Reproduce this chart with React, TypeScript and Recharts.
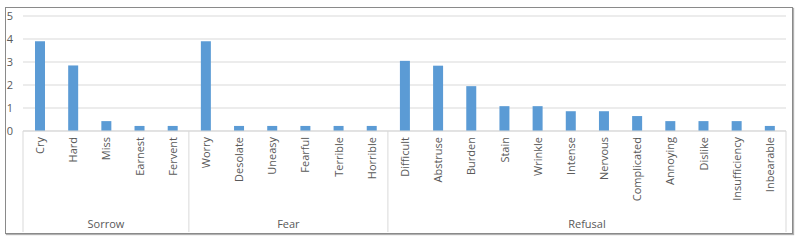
import React from 'react';
import { BarChart, Bar, XAxis, YAxis, CartesianGrid } from 'recharts';

const words = [
  'Cry', 'Hard', 'Miss', 'Earnest', 'Fervent',
  'Worry', 'Desolate', 'Uneasy', 'Fearful', 'Terrible', 'Horrible',
  'Difficult', 'Abstruse', 'Burden', 'Stain', 'Wrinkle', 'Intense', 'Nervous',
  'Complicated', 'Annoying', 'Dislike', 'Insufficiency', 'Inbearable',
];
const values = [
  3.9, 2.85, 0.43, 0.22, 0.22,
  3.9, 0.22, 0.22, 0.22, 0.22, 0.22,
  3.05, 2.84, 1.95, 1.08, 1.08, 0.86, 0.86, 0.65, 0.43, 0.43, 0.43, 0.22,
];
const groupNames = ['Sorrow', 'Fear', 'Refusal'];
const groupSizes = [5, 6, 12];
const yTicks = [0, 1, 2, 3, 4, 5];

const data = words.map((w, i) => ({ word: w, value: values[i] }));

const groupStarts: number[] = [];
{
  let s = 0;
  for (const n of groupSizes) {
    groupStarts.push(s);
    s += n;
  }
}

const FONT = '"Open Sans", "Noto Sans", sans-serif';
const TEXT = '#595959';
const LINE = '#d9d9d9';

const WordTick = (props: any) => {
  const { x, y, payload } = props;
  const idx: number = payload.index;
  const half: number = payload.offset || 16.6;
  const els: React.ReactNode[] = [];
  els.push(
    <text
      key="w"
      x={0}
      y={0}
      transform={`translate(${x},${y + 6}) rotate(-90)`}
      textAnchor="end"
      dominantBaseline="central"
      fontSize={11}
      fontFamily={FONT}
      fill={TEXT}
    >
      {payload.value}
    </text>
  );
  const g = groupStarts.indexOf(idx);
  if (g >= 0) {
    const left = x - half;
    els.push(<line key="s" x1={left} x2={left} y1={y} y2={y + 101} stroke={LINE} strokeWidth={1} />);
    els.push(
      <text
        key="g"
        x={left + groupSizes[g] * half}
        y={y + 92}
        textAnchor="middle"
        dominantBaseline="central"
        fontSize={11}
        fontFamily={FONT}
        fill={TEXT}
      >
        {groupNames[g]}
      </text>
    );
  }
  if (idx === words.length - 1) {
    const right = x + half;
    els.push(<line key="e" x1={right} x2={right} y1={y} y2={y + 101} stroke={LINE} strokeWidth={1} />);
  }
  return <g>{els}</g>;
};

export default function App() {
  return (
    <div style={{ position: 'absolute', left: 0, top: 0, width: 800, height: 242, background: '#fff' }}>
      <div
        style={{
          position: 'absolute',
          left: 5,
          top: 7,
          width: 786,
          height: 225,
          border: '1px solid #8a8a8a',
          boxShadow: '1px 1px 1px #b0b0b0',
        }}
      />
      <div style={{ position: 'absolute', left: 0, top: 0 }}>
        <BarChart
          width={800}
          height={242}
          data={data}
          margin={{ top: 16, right: 14, left: 0, bottom: 0 }}
        >
          <CartesianGrid vertical={false} stroke={LINE} />
          <YAxis
            domain={[0, 5]}
            ticks={yTicks}
            width={23}
            axisLine={false}
            tickLine={false}
            tickMargin={4}
            tick={{ fontSize: 11, fontFamily: FONT, fill: TEXT }}
          />
          <XAxis
            dataKey="word"
            interval={0}
            height={111}
            tickSize={0}
            tickMargin={0}
            tickLine={false}
            axisLine={{ stroke: LINE }}
            tick={<WordTick />}
          />
          <Bar dataKey="value" fill="#5b9bd5" barSize={10} isAnimationActive={false} />
        </BarChart>
      </div>
    </div>
  );
}
